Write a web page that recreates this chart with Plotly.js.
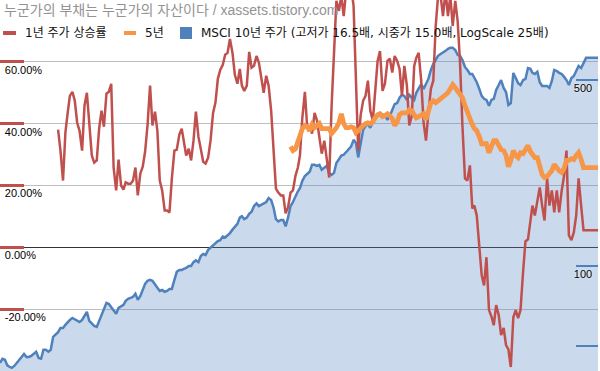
<!DOCTYPE html>
<html>
<head>
<meta charset="utf-8">
<script src="https://cdn.plot.ly/plotly-3.0.1.min.js"></script>
<style>html,body{margin:0;padding:0;background:#fff;}#chart{width:600px;height:371px;}</style>
</head>
<body>
<div id="chart"></div>
<script>
// ---- time axis: semi-monthly observations ----
const startYear = 2014;
const nObs = 248;
const dates = [];
for (let i = 0; i < nObs; i++) {
  const y = startYear + Math.floor(i / 24);
  const m = Math.floor((i % 24) / 2) + 1;
  const d = (i % 2) ? 16 : 1;
  dates.push(y + '-' + String(m).padStart(2, '0') + '-' + String(d).padStart(2, '0'));
}

// ---- MSCI price (right, log scale) ----
const msciPrice = [
43.2,44.8,44.4,42.3,41.8,41.4,42.1,43.2,44.4,45.9,
46.7,45.5,45.5,45.9,46.7,47.6,45.1,44.8,48.4,48.4,
47.6,48.4,54.2,55.1,56.4,58.5,58.5,60.1,61.6,62.7,
63.8,63.2,62.2,61.6,62.7,65.0,67.3,62.2,60.6,59.5,
59.0,62.2,65.5,69.6,72.7,72.0,70.2,67.8,66.1,69.6,
70.8,71.4,74.0,75.3,75.9,76.6,78.6,74.6,77.2,82.0,
85.7,88.0,88.7,88.0,85.7,82.8,80.6,81.3,80.0,80.6,
82.0,82.0,88.7,95.1,96.7,96.7,97.5,98.3,100,100,
103.4,105,103.4,109,111,110,115,117,120,122,
124,125,129,128,130,133,137,141,144,152,
154,150,152,157,160,168,172,168,170,172,
174,180,177,166,150,147,149,149,141,152,
168,174,184,191,196,209,218,222,226,240,
240,238,240,230,234,238,224,220,224,244,
252,260,262,268,276,281,298,290,256,293,
325,336,342,331,348,364,373,376,370,370,
354,367,386,406,410,429,440,436,421,440,
429,421,448,463,483,463,483,505,546,575,
595,617,627,633,644,655,661,661,649,622,
617,595,560,546,527,527,509,491,463,436,
425,421,400,421,425,459,479,500,467,451,
403,410,532,509,487,479,500,505,555,551,
532,527,537,491,475,475,475,467,496,546,
541,532,527,514,500,479,509,518,541,565,
555,580,606,606,606,606,606,606];

// ---- 1-year price change (%), starts one year after the price series ----
const ret1yStart = 24;
const ret1y = [
38.1,31.3,21.6,37.1,42.9,49.0,50.3,47.4,40.3,37.7,
31.3,45.8,50.0,38.7,29.7,27.4,28.1,38.4,44.2,39.0,
49.7,50.3,52.9,25.8,18.4,28.4,20.0,18.7,21.0,20.6,
20.6,21.6,25.8,16.8,23.9,26.1,31.0,39.4,52.3,39.4,
43.9,37.7,21.6,18.4,11.9,11.9,11.3,22.3,31.3,31.6,
36.5,38.4,33.9,29.7,31.9,28.1,34.5,43.9,35.8,31.6,
27.7,27.1,29.0,34.5,43.5,46.8,54.5,57.4,59.0,62.3,
62.9,67.4,62.9,55.8,52.9,57.7,52.3,50.6,52.3,63.2,
58.1,58.7,61.9,59.7,54.5,50.0,55.5,52.3,44.2,32.9,
19.0,17.7,16.8,16.8,11.0,12.9,17.7,18.4,23.2,25.8,
29.7,41.9,50.3,38.4,39.4,36.8,43.5,41.0,34.8,30.3,
34.5,29.0,22.6,45.8,61.9,79.7,76.5,81.3,74.8,82.9,
86.1,84.5,78.1,53.9,31.3,42.6,47.4,49.0,53.9,44.2,
41.0,50.6,60.3,63.5,50.6,52.9,60.3,61.0,56.5,61.9,
60.3,57.7,49.0,58.7,52.3,39.4,42.6,58.7,61.3,62.9,
53.9,40.3,34.5,43.5,51.3,53.9,71.6,81.3,81.3,74.8,
82.9,74.8,81.3,71.6,79.7,73.2,59.7,39.4,22.3,21.6,
26.5,12.6,13.5,10.3,1.6,-9.0,-12.3,-3.2,-20.3,-22.3,
-25.2,-18.7,-21.9,-28.4,-26.1,-31.6,-33.0,-38.7,-22.6,-20.3,
-22.9,-20.3,-8.1,1.9,2.6,8.7,13.5,10.3,15.2,19.4,
13.5,8.7,22.3,13.5,18.4,11.3,18.4,11.3,18.4,23.2,
31.3,3.9,2.3,4.8,10.3,22.3,13.5,5.5,5.5,5.5,
5.5,5.5,5.5,5.5];

// ---- 5-year price change (%), starts five years after the price series ----
const ret5yStart = 120;
const ret5y = [
32.6,31.3,31.9,34.2,36.1,38.4,39.4,39.0,37.7,39.7,
38.7,39.4,40.0,38.4,38.4,38.1,38.4,36.8,37.7,38.7,
40.3,43.2,40.0,38.7,38.7,39.0,38.7,37.1,37.7,38.7,
39.4,40.0,40.3,40.0,40.6,41.9,42.9,43.2,42.3,42.6,
43.2,42.6,41.6,39.4,40.6,42.9,43.5,43.5,43.5,44.5,
44.2,42.9,41.9,42.3,42.9,43.2,41.3,44.2,46.8,47.4,
46.8,47.4,48.1,48.4,49.4,50.0,51.3,52.6,51.6,50.6,
49.7,48.4,45.8,43.5,41.6,39.7,38.4,37.7,35.8,33.5,
33.5,33.5,30.6,32.3,34.5,34.5,33.2,31.6,31.3,29.7,
26.1,28.1,31.3,29.7,29.0,30.6,30.3,31.6,32.9,31.0,
30.3,29.0,29.0,25.8,23.5,22.6,22.9,23.9,24.8,26.8,
25.5,24.8,24.2,25.5,28.1,28.1,28.7,28.4,29.7,30.6,
28.4,25.8,25.8,25.8,25.8,25.8,25.8,25.8];

// ---- axis ticks / labels ----
const pctTicks = [-40, -20, 0, 20, 40, 60, 80];
const pctShown = [-20, 0, 20, 40, 60];
const priceTicks = [50, 100, 500, 1000];
const priceShown = [100, 500];

const titleText = '누군가의 부채는 누군가의 자산이다 / xassets.tistory.com';
const names = ['1년 주가 상승률', '5년', 'MSCI 10년 주가 (고저가 16.5배, 시중가 15.0배, LogScale 25배)'];

const RED = '#C0504D', ORANGE = '#F79646', BLUE = '#4F81BD';
const W = 600, H = 371, ML = 0, MR = 2;
const PW = W - ML - MR;
const px = v => v / PW, py = v => 1 - v / H;

const traces = [
  { x: dates, y: msciPrice, name: names[2], type: 'scatter', mode: 'lines', yaxis: 'y',
    line: { color: BLUE, width: 2.5 }, fill: 'tozeroy', fillcolor: 'rgba(79,129,189,0.3)',
    showlegend: false, hoverinfo: 'skip' },
  { x: dates.slice(ret1yStart), y: ret1y, name: names[0], type: 'scatter', mode: 'lines', yaxis: 'y2',
    line: { color: RED, width: 2.5 }, showlegend: false, hoverinfo: 'skip' },
  { x: dates.slice(ret5yStart), y: ret5y, name: names[1], type: 'scatter', mode: 'lines', yaxis: 'y2',
    line: { color: ORANGE, width: 4.8 }, showlegend: false, hoverinfo: 'skip' }
];

const legendY = py(33);
const legendFont = { size: 12, color: '#111', family: 'DejaVu Sans, Noto Sans CJK KR, sans-serif' };
const layout = {
  width: W, height: H,
  margin: { l: ML, r: MR, t: 0, b: 0 },
  paper_bgcolor: '#fff', plot_bgcolor: '#fff',
  font: { family: 'Liberation Sans, Noto Sans CJK KR, sans-serif', size: 11, color: '#000' },
  showlegend: false,
  title: { text: titleText, x: 4 / W, xanchor: 'left', xref: 'container', y: 1 - 10 / H, yanchor: 'middle', yref: 'container',
           font: { size: 14, color: '#939393', family: 'Liberation Sans, Noto Sans CJK KR, sans-serif' } },
  xaxis: { type: 'date', range: [dates[0], dates[nObs - 1]], visible: false, showgrid: false, zeroline: false },
  yaxis: { type: 'log', side: 'right', range: [Math.log10(40.3), 3],
           tickmode: 'array', tickvals: priceTicks, ticktext: priceTicks.map(v => priceShown.includes(v) ? String(v) : ''),
           ticks: 'inside', ticklen: 22, tickwidth: 2, tickcolor: BLUE,
           ticklabelposition: 'inside', ticklabelshift: 8, ticklabelstandoff: -17,
           showgrid: false, zeroline: false, showline: false,
           tickfont: { size: 11, color: '#000', shadow: '0px 0px 2px #fff' } },
  yaxis2: { overlaying: 'y', side: 'left', range: [-40, 80],
            tickmode: 'array', tickvals: pctTicks, ticktext: pctTicks.map(v => pctShown.includes(v) ? v.toFixed(2) + '%' : ''),
            ticks: 'inside', ticklen: 24, tickwidth: 3, tickcolor: RED,
            ticklabelposition: 'inside', ticklabelshift: 8, ticklabelstandoff: -20,
            showgrid: true, gridcolor: '#BFBFBF', gridwidth: 1,
            zeroline: true, zerolinecolor: '#333333', zerolinewidth: 1.5, showline: false,
            tickfont: { size: 11, color: '#000' } },
  shapes: [
    { type: 'line', xref: 'paper', yref: 'paper', x0: px(3), x1: px(16), y0: legendY, y1: legendY, line: { color: RED, width: 4 } },
    { type: 'line', xref: 'paper', yref: 'paper', x0: px(124), x1: px(136), y0: legendY, y1: legendY, line: { color: ORANGE, width: 4 } },
    { type: 'rect', xref: 'paper', yref: 'paper', x0: px(180), x1: px(192), y0: py(39), y1: py(27), fillcolor: BLUE, line: { width: 0 } }
  ],
  annotations: [
    { text: names[0], xref: 'paper', yref: 'paper', x: px(23), y: legendY, xanchor: 'left', yanchor: 'middle', showarrow: false, font: legendFont },
    { text: names[1], xref: 'paper', yref: 'paper', x: px(143), y: legendY, xanchor: 'left', yanchor: 'middle', showarrow: false, font: legendFont },
    { text: names[2], xref: 'paper', yref: 'paper', x: px(199), y: legendY, xanchor: 'left', yanchor: 'middle', showarrow: false, font: legendFont }
  ]
};

Plotly.newPlot('chart', traces, layout, { displayModeBar: false, staticPlot: true });
</script>
</body>
</html>
